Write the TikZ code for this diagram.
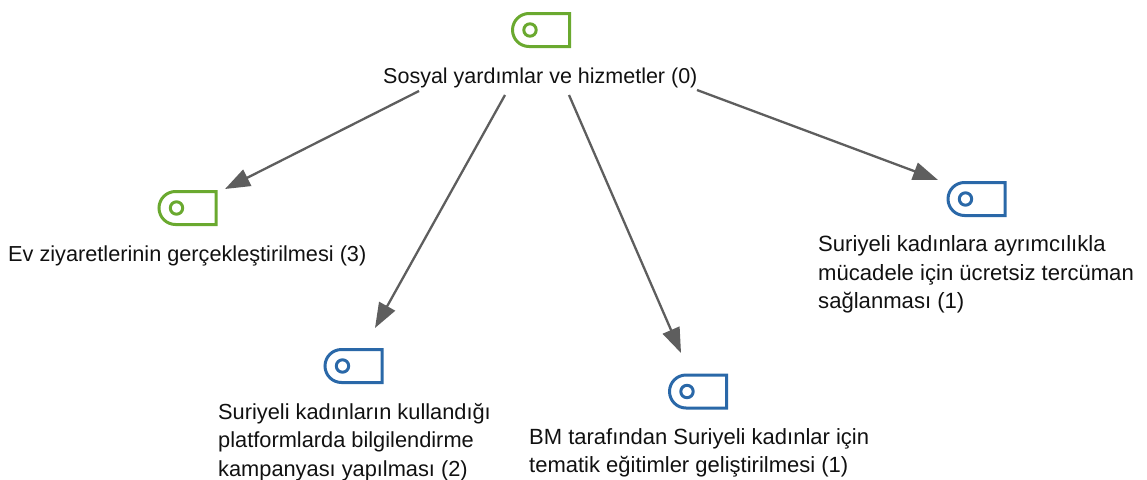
\documentclass[tikz,border=0pt]{standalone}
\usepackage{fontspec}
\setmainfont{Liberation Sans}
\usetikzlibrary{arrows.meta}
\definecolor{igreen}{HTML}{6AA92F}
\definecolor{iblue}{HTML}{2A68A8}
\definecolor{arrowgray}{HTML}{5E5E5E}
\definecolor{textgray}{HTML}{111111}
\tikzset{
  x=1pt,y=-1pt,
  iconbox/.style={inner sep=0pt,minimum width=57pt,minimum height=33pt,rectangle},
  label text/.style={inner sep=0pt,align=left,text=textgray,anchor=west,font=\fontsize{#1}{28.5}\selectfont},
  conn/.style={draw=arrowgray,line width=2.3pt,-{Triangle[length=25pt,width=18pt,fill=arrowgray]}}
}
\newcommand{\tagshape}[2]{%
  \draw[#2,line width=3pt,line join=miter]
    ([shift={(28.5,-16.5)}]#1.center) -- ([shift={(28.5,16.5)}]#1.center)
    -- ([shift={(-12,16.5)}]#1.center)
    arc[start angle=90,end angle=270,x radius=16.5pt,y radius=-16.5pt]
    -- cycle;
  \draw[#2,line width=3pt] ([shift={(-11,0)}]#1.center) circle[radius=6.2pt];
}
\begin{document}
\begin{tikzpicture}
\useasboundingbox (0,0) rectangle (1147,479);
\node[iconbox] (i0) at (541,30) {};
\node[iconbox] (i1) at (187.5,208) {};
\node[iconbox] (i2) at (353.5,366) {};
\node[iconbox] (i3) at (698,391.5) {};
\node[iconbox] (i4) at (976.5,199) {};
\tagshape{i0}{igreen}
\tagshape{i1}{igreen}
\tagshape{i2}{iblue}
\tagshape{i3}{iblue}
\tagshape{i4}{iblue}
\node[label text=21.5] (t0) at (383,77.5) {Sosyal yardımlar ve hizmetler (0)};
\node[label text=21.7] (t1) at (8,255.5) {Ev ziyaretlerinin gerçekleştirilmesi (3)};
\node[label text=21.8] (t2) at (218,442) {Suriyeli kadınların kullandığı\\platformlarda bilgilendirme\\kampanyası yapılması (2)};
\node[label text=22] (t3) at (529,453) {BM tarafından Suriyeli kadınlar için\\tematik eğitimler geliştirilmesi (1)};
\node[label text=22.1] (t4) at (818,274.5) {Suriyeli kadınlara ayrımcılıkla\\mücadele için ücretsiz tercüman\\sağlanması (1)};
\draw[conn] ([shift={(36,13.5)}]t0.west) -- ([shift={(37.5,-19)}]i1.center);
\draw[conn] ([shift={(122,17.5)}]t0.west) -- ([shift={(21.5,-38)}]i2.center);
\draw[conn] ([shift={(186,17.5)}]t0.west) -- ([shift={(-17,-38.5)}]i3.center);
\draw[conn] ([shift={(314,12.5)}]t0.west) -- ([shift={(-38.5,-19)}]i4.center);
\end{tikzpicture}
\end{document}
